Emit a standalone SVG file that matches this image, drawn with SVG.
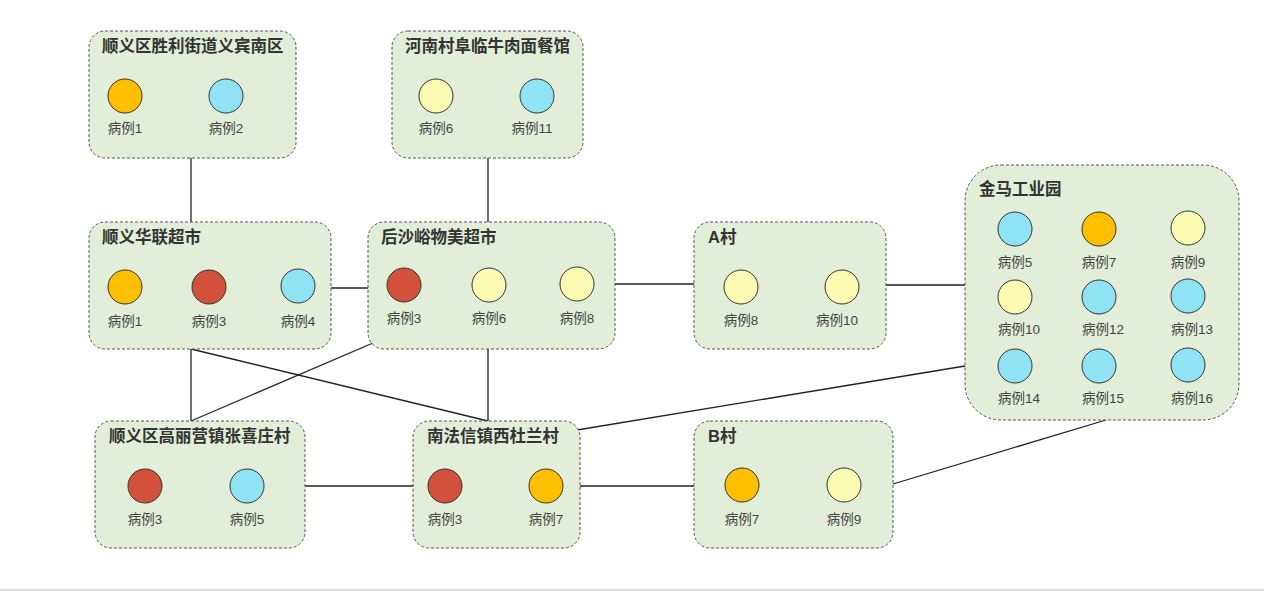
<svg xmlns="http://www.w3.org/2000/svg" width="1264" height="591" viewBox="0 0 1264 591">
<style>
.box{fill:#e2eed8;stroke:#555;stroke-width:1;stroke-dasharray:3 2}
.t{font-family:"Liberation Sans","Noto Sans CJK SC",sans-serif;font-size:16.5px;font-weight:bold;fill:#333}
.l{font-family:"Liberation Sans","Noto Sans CJK SC",sans-serif;font-size:13.5px;fill:#444;text-anchor:middle}
.c{stroke:#333;stroke-width:1}
.o{fill:#fdbf00}.r{fill:#d1513a}.b{fill:#8fe3f5}.y{fill:#fafab3}
.e{stroke:#222;stroke-width:1.3;fill:none}
</style>
<rect width="1264" height="591" fill="#fff"/>
<rect x="0" y="589" width="1264" height="2" fill="#ddd"/>
<g id="connectors">
<line class="e" x1="191" y1="158" x2="191" y2="222"/>
<line class="e" x1="488" y1="158" x2="488" y2="222"/>
<line class="e" x1="331" y1="288" x2="368" y2="288"/>
<line class="e" x1="615" y1="284" x2="694" y2="284"/>
<line class="e" x1="886" y1="285" x2="965" y2="285"/>
<line class="e" x1="191" y1="349" x2="191" y2="421"/>
<line class="e" x1="191" y1="349" x2="488" y2="421"/>
<line class="e" x1="373" y1="343" x2="191" y2="421"/>
<line class="e" x1="488" y1="349" x2="488" y2="421"/>
<line class="e" x1="965" y1="366" x2="577" y2="430"/>
<line class="e" x1="305" y1="486" x2="413" y2="486"/>
<line class="e" x1="580" y1="486" x2="694" y2="486"/>
<line class="e" x1="893" y1="484" x2="1106" y2="420"/>
</g>
<g id="n1">
<rect class="box" x="89" y="31" width="207" height="127" rx="16"/>
<text class="t" x="102" y="52">顺义区胜利街道义宾南区</text>
<circle class="c o" cx="125" cy="96" r="17"/><text class="l" x="125" y="133">病例1</text>
<circle class="c b" cx="226" cy="96" r="17"/><text class="l" x="226" y="133">病例2</text>
</g>
<g id="n2">
<rect class="box" x="392" y="31" width="191" height="127" rx="16"/>
<text class="t" x="405" y="52">河南村阜临牛肉面餐馆</text>
<circle class="c y" cx="436" cy="96" r="17"/><text class="l" x="436" y="133">病例6</text>
<circle class="c b" cx="537" cy="96" r="17"/><text class="l" x="532" y="133">病例11</text>
</g>
<g id="n3">
<rect class="box" x="89" y="222" width="242" height="127" rx="16"/>
<text class="t" x="102" y="243">顺义华联超市</text>
<circle class="c o" cx="125" cy="287" r="17"/><text class="l" x="125" y="326">病例1</text>
<circle class="c r" cx="209" cy="287" r="17"/><text class="l" x="209" y="326">病例3</text>
<circle class="c b" cx="298" cy="286" r="17"/><text class="l" x="298" y="326">病例4</text>
</g>
<g id="n4">
<rect class="box" x="368" y="222" width="247" height="127" rx="16"/>
<text class="t" x="381" y="243">后沙峪物美超市</text>
<circle class="c r" cx="404" cy="285" r="17"/><text class="l" x="404" y="323">病例3</text>
<circle class="c y" cx="489" cy="285" r="17"/><text class="l" x="489" y="323">病例6</text>
<circle class="c y" cx="577" cy="284" r="17"/><text class="l" x="577" y="323">病例8</text>
</g>
<g id="n5">
<rect class="box" x="694" y="222" width="192" height="127" rx="16"/>
<text class="t" x="708" y="243">A村</text>
<circle class="c y" cx="741" cy="287" r="17"/><text class="l" x="741" y="325">病例8</text>
<circle class="c y" cx="842" cy="287" r="17"/><text class="l" x="837" y="325">病例10</text>
</g>
<g id="n6">
<rect class="box" x="965" y="165" width="274" height="255" rx="36"/>
<text class="t" x="979" y="195">金马工业园</text>
<circle class="c b" cx="1015" cy="229" r="17"/><text class="l" x="1015" y="267">病例5</text>
<circle class="c o" cx="1099" cy="229" r="17"/><text class="l" x="1099" y="267">病例7</text>
<circle class="c y" cx="1188" cy="228" r="17"/><text class="l" x="1188" y="267">病例9</text>
<circle class="c y" cx="1015" cy="297" r="17"/><text class="l" x="1019" y="334">病例10</text>
<circle class="c b" cx="1099" cy="297" r="17"/><text class="l" x="1103" y="334">病例12</text>
<circle class="c b" cx="1188" cy="296" r="17"/><text class="l" x="1192" y="334">病例13</text>
<circle class="c b" cx="1015" cy="366" r="17"/><text class="l" x="1019" y="403">病例14</text>
<circle class="c b" cx="1099" cy="366" r="17"/><text class="l" x="1103" y="403">病例15</text>
<circle class="c b" cx="1188" cy="365" r="17"/><text class="l" x="1192" y="403">病例16</text>
</g>
<g id="n7">
<rect class="box" x="95" y="421" width="210" height="127" rx="16"/>
<text class="t" x="109" y="442">顺义区高丽营镇张喜庄村</text>
<circle class="c r" cx="145" cy="486" r="17"/><text class="l" x="145" y="524">病例3</text>
<circle class="c b" cx="247" cy="486" r="17"/><text class="l" x="247" y="524">病例5</text>
</g>
<g id="n8">
<rect class="box" x="413" y="421" width="167" height="127" rx="16"/>
<text class="t" x="427" y="442">南法信镇西杜兰村</text>
<circle class="c r" cx="445" cy="486" r="17"/><text class="l" x="445" y="524">病例3</text>
<circle class="c o" cx="546" cy="486" r="17"/><text class="l" x="546" y="524">病例7</text>
</g>
<g id="n9">
<rect class="box" x="694" y="421" width="199" height="127" rx="16"/>
<text class="t" x="708" y="442">B村</text>
<circle class="c o" cx="742" cy="485" r="17"/><text class="l" x="742" y="524">病例7</text>
<circle class="c y" cx="844" cy="485" r="17"/><text class="l" x="844" y="524">病例9</text>
</g>
</svg>
